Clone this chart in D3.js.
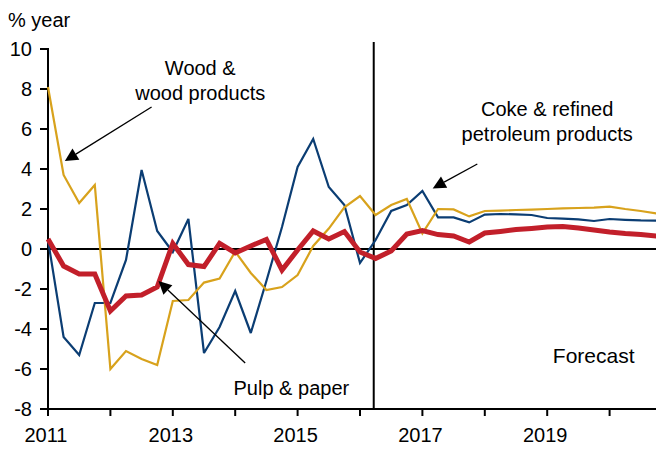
<!DOCTYPE html>
<html>
<head>
<meta charset="utf-8">
<script src="https://cdn.jsdelivr.net/npm/d3@7/dist/d3.min.js"></script>
<style>
  html, body { margin: 0; padding: 0; background: #fff; }
  svg { display: block; }
  text { font-family: "Liberation Sans", Arial, sans-serif; fill: #000; }
</style>
</head>
<body>
<svg id="chart" width="656" height="451"></svg>
<script>
// ---- Data (quarterly, % change on a year earlier), starting 2011 Q1 ----
const startYear = 2011;
const wood = [8.1, 3.7, 2.3, 3.2, -6.0, -5.1, -5.5, -5.8, -2.6, -2.55, -1.68, -1.48,
  -0.13, -1.2, -2.05, -1.9, -1.3, 0.15, 1.02, 2.08, 2.65, 1.7, 2.2, 2.5,
  0.78, 2.0, 1.98, 1.63, 1.9, 1.92, 1.95, 1.97, 2.0, 2.03, 2.05, 2.07,
  2.12, 2.0, 1.9, 1.78];
const coke = [0.45, -4.4, -5.3, -2.7, -2.7, -0.55, 3.95, 0.9, -0.15, 1.5, -5.2, -3.9,
  -2.1, -4.2, -1.6, 1.1, 4.1, 5.5, 3.1, 2.2, -0.7, 0.45, 1.9, 2.2,
  2.9, 1.58, 1.58, 1.33, 1.72, 1.75, 1.73, 1.7, 1.55, 1.52, 1.48, 1.4,
  1.5, 1.46, 1.43, 1.42];
const pulp = [0.5, -0.85, -1.25, -1.25, -3.1, -2.35, -2.3, -1.9, 0.28, -0.78, -0.88, 0.28,
  -0.2, 0.15, 0.48, -1.05, -0.05, 0.9, 0.5, 0.87, -0.15, -0.47, -0.1, 0.75,
  0.92, 0.72, 0.65, 0.35, 0.8, 0.88, 0.97, 1.03, 1.1, 1.12, 1.05, 0.95,
  0.85, 0.77, 0.72, 0.65];
const yTicks = [-8, -6, -4, -2, 0, 2, 4, 6, 8, 10];
const xTickYears = [2011, 2012, 2013, 2014, 2015, 2016, 2017, 2018, 2019, 2020];
const xLabelYears = [2011, 2013, 2015, 2017, 2019];
const forecastStart = 2016.22;

// ---- Scales ----
const svg = d3.select("#chart");
const x = d3.scaleLinear().domain([2011, 2021]).range([48, 672]);
const y = d3.scaleLinear().domain([-8, 10]).range([409, 49]);
const t = i => startYear + i * 0.25;

const series = [
  { values: coke, color: "#0b3d73", width: 2.2 },
  { values: wood, color: "#d8a21c", width: 2.2 },
  { values: pulp, color: "#c21f2a", width: 5 }
];

// ---- Axes ----
const axisG = svg.append("g");
axisG.append("line").attr("x1", x(2011)).attr("x2", x(2011))
  .attr("y1", y(10) - 1).attr("y2", y(-8) + 1)
  .attr("stroke", "#000").attr("stroke-width", 2);
axisG.selectAll(".ytick").data(yTicks).enter().append("line")
  .attr("x1", x(2011) - 8).attr("x2", x(2011))
  .attr("y1", d => y(d)).attr("y2", d => y(d))
  .attr("stroke", "#000").attr("stroke-width", 2);
axisG.selectAll(".ylab").data(yTicks).enter().append("text")
  .attr("x", 32).attr("y", d => y(d) + 7)
  .attr("text-anchor", "end").attr("font-size", 20)
  .text(d => d);
axisG.append("line").attr("x1", x(2011) - 1).attr("x2", 656)
  .attr("y1", y(-8)).attr("y2", y(-8))
  .attr("stroke", "#000").attr("stroke-width", 2);
axisG.selectAll(".xtick").data(xTickYears).enter().append("line")
  .attr("x1", d => x(d)).attr("x2", d => x(d))
  .attr("y1", y(-8)).attr("y2", y(-8) + 7)
  .attr("stroke", "#000").attr("stroke-width", 2);
axisG.selectAll(".xlab").data(xLabelYears).enter().append("text")
  .attr("x", d => x(d) - 2).attr("y", 442)
  .attr("text-anchor", "middle").attr("font-size", 20)
  .text(d => d);
axisG.append("line").attr("x1", x(2011)).attr("x2", 656)
  .attr("y1", y(0)).attr("y2", y(0))
  .attr("stroke", "#000").attr("stroke-width", 2);
axisG.append("line").attr("x1", x(forecastStart)).attr("x2", x(forecastStart))
  .attr("y1", 42).attr("y2", y(-8))
  .attr("stroke", "#000").attr("stroke-width", 2);

// ---- Lines ----
const line = d3.line().x((d, i) => x(t(i))).y(d => y(d));
svg.append("g").selectAll("path").data(series).enter().append("path")
  .attr("d", d => line(d.values))
  .attr("fill", "none")
  .attr("stroke", d => d.color)
  .attr("stroke-width", d => d.width)
  .attr("stroke-linejoin", "miter")
  .attr("stroke-miterlimit", 3);

// ---- Annotations ----
svg.append("text").attr("x", 8).attr("y", 27).attr("font-size", 20).text("% year");

function label(lines, cx, y0, dy, fs) {
  const tx = svg.append("text").attr("font-size", fs).attr("text-anchor", "middle");
  lines.forEach((s, k) => tx.append("tspan").attr("x", cx).attr("y", y0 + k * dy).text(s));
}
label(["Wood &", "wood products"], x(2013.44), 75, 25, 20);
label(["Coke & refined", "petroleum products"], x(2019.0), 116, 25, 20);
label(["Pulp & paper"], x(2014.9), 395, 25, 20);
svg.append("text").attr("x", x(2019.09)).attr("y", 363).attr("font-size", 21).text("Forecast");

const arrows = [
  { from: [2012.66, 7.1], to: [2011.27, 4.4] },
  { from: [2017.88, 4.25], to: [2017.165, 3.03] },
  { from: [2014.16, -5.7], to: [2012.77, -1.6] }
];
arrows.forEach(a => {
  const x1 = x(a.from[0]), y1 = y(a.from[1]);
  const x2 = x(a.to[0]), y2 = y(a.to[1]);
  const ang = Math.atan2(y2 - y1, x2 - x1);
  const L = 13, W = 6.5;
  const bx = x2 - L * Math.cos(ang), by = y2 - L * Math.sin(ang);
  svg.append("line").attr("x1", x1).attr("y1", y1).attr("x2", bx).attr("y2", by)
    .attr("stroke", "#000").attr("stroke-width", 1.3);
  const px = -Math.sin(ang) * W, py = Math.cos(ang) * W;
  svg.append("path")
    .attr("d", `M${x2},${y2}L${bx + px},${by + py}L${bx - px},${by - py}Z`)
    .attr("fill", "#000");
});
</script>
</body>
</html>
